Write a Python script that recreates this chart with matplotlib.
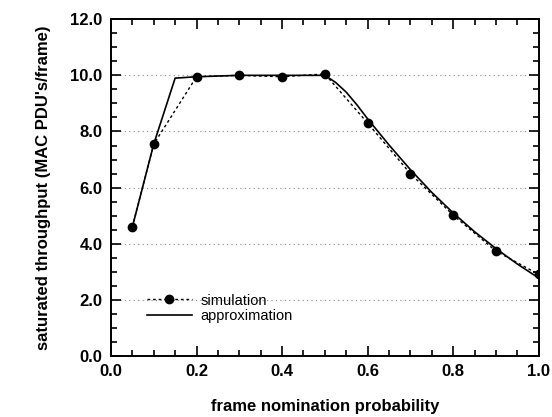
import matplotlib
matplotlib.use("Agg")
import matplotlib.pyplot as plt
from matplotlib.ticker import MultipleLocator

plt.rcParams['font.family'] = ['Liberation Sans', 'DejaVu Sans']

# simulation points
sim_x = [0.05, 0.1, 0.2, 0.3, 0.4, 0.5, 0.6, 0.7, 0.8, 0.9, 1.0]
sim_y = [4.6, 7.55, 9.95, 10.0, 9.95, 10.05, 8.3, 6.5, 5.02, 3.74, 2.91]

# approximation curve
app_x = [0.05, 0.1, 0.15, 0.2, 0.3, 0.4, 0.5, 0.525, 0.55, 0.575, 0.6, 0.65, 0.7, 0.75, 0.8, 0.85, 0.9, 0.95, 1.0]
app_y = [4.6, 7.55, 9.9, 9.95, 10.0, 10.0, 10.0, 9.75, 9.4, 8.95, 8.45, 7.52, 6.64, 5.83, 5.1, 4.43, 3.83, 3.28, 2.78]

fig = plt.figure(figsize=(5.52, 4.17), dpi=100)
ax = fig.add_axes([0.201, 0.146, 0.775, 0.808])

ax.plot(sim_x, sim_y, color='black', linestyle=(0, (2, 2)), linewidth=1.0,
        marker='o', markersize=6, label='simulation')
ax.plot(app_x, app_y, color='black', linestyle='-', linewidth=1.2, label='approximation')

for yv in [2, 4, 6, 8, 10]:
    ax.axhline(yv, color='#888888', linestyle=(0, (1, 3)), linewidth=0.8, zorder=0)

ax.set_xlim(0, 1.0)
ax.set_ylim(0, 12)
ax.xaxis.set_major_locator(MultipleLocator(0.2))
ax.xaxis.set_minor_locator(MultipleLocator(0.05))
ax.yaxis.set_major_locator(MultipleLocator(2.0))
ax.yaxis.set_minor_locator(MultipleLocator(0.5))
ax.xaxis.set_major_formatter(plt.FormatStrFormatter('%.1f'))
ax.yaxis.set_major_formatter(plt.FormatStrFormatter('%.1f'))
ax.tick_params(which='both', direction='in', top=True, right=True, width=1.2)
ax.tick_params(which='major', length=7, labelsize=12, pad=6)
ax.tick_params(which='minor', length=4)
for lab in ax.get_xticklabels() + ax.get_yticklabels():
    lab.set_fontweight('bold')
for sp in ax.spines.values():
    sp.set_linewidth(1.4)

ax.set_xlabel('frame nomination probability', fontsize=12, fontweight='bold', labelpad=14)
ax.set_ylabel("saturated throughput (MAC PDU's/frame)", fontsize=12, fontweight='bold', labelpad=14)

ax.legend(loc='center left', bbox_to_anchor=(0.084, 0.142), frameon=False, fontsize=10.5,
          handlelength=3.1, handletextpad=0.55, labelspacing=0.1,
          borderpad=0, borderaxespad=0)

fig.savefig('out.png', dpi=100)
